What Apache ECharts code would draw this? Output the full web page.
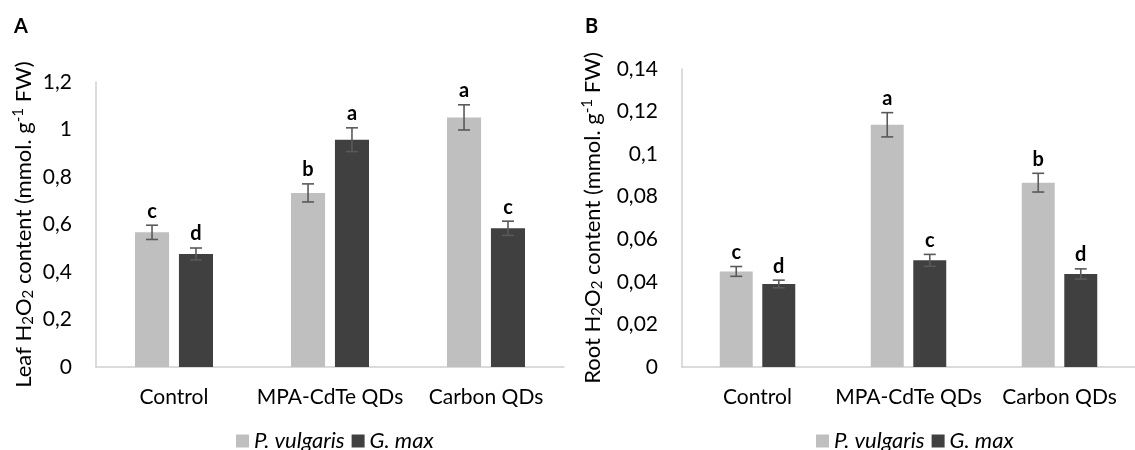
<!DOCTYPE html>
<html>
<head>
<meta charset="utf-8">
<script src="https://cdn.jsdelivr.net/npm/echarts@6/dist/echarts.min.js"></script>
<style>html,body{margin:0;padding:0;background:#fff}#c{width:1135px;height:450px}</style>
</head>
<body>
<div id="c"></div>
<script>
// ---- data ----
const categories = ['Control', 'MPA-CdTe QDs', 'Carbon QDs'];
const seriesNames = ['P. vulgaris', 'G. max'];

const leafPv = [0.567, 0.733, 1.051];
const leafPvErr = [0.030, 0.038, 0.053];
const leafPvLetters = ['c', 'b', 'a'];
const leafGm = [0.476, 0.957, 0.584];
const leafGmErr = [0.025, 0.050, 0.030];
const leafGmLetters = ['d', 'a', 'c'];

const rootPv = [0.0449, 0.1138, 0.0866];
const rootPvErr = [0.0023, 0.0057, 0.0044];
const rootPvLetters = ['c', 'a', 'b'];
const rootGm = [0.0390, 0.0501, 0.0437];
const rootGmErr = [0.0018, 0.0028, 0.0024];
const rootGmLetters = ['d', 'c', 'd'];

const yTicksA = ['0', '0,2', '0,4', '0,6', '0,8', '1', '1,2'];
const yTicksB = ['0', '0,02', '0,04', '0,06', '0,08', '0,1', '0,12', '0,14'];

// ---- styling ----
const FONT = 'Lato';
const LIGHT = '#bfbfbf';
const DARK = '#404040';
const AXIS = '#d0d0d0';
const ERR = '#595959';
const CAT_GAP = 0.5, BAR_GAP = 0.29;
const FS = 21;

function errSeries(xIdx, vals, errs, letters, sign) {
  return {
    type: 'custom',
    xAxisIndex: xIdx, yAxisIndex: xIdx,
    z: 10,
    silent: true,
    data: vals.map((v, i) => [i, v, errs[i]]),
    renderItem: function (params, api) {
      const i = api.value(0), v = api.value(1), e = api.value(2);
      const c = api.coord([i, v]);
      const bw = api.size([1, 0])[0];
      const barW = bw * (1 - CAT_GAP) / (2 + BAR_GAP);
      const x = c[0] + sign * barW * (1 + BAR_GAP) / 2;
      const top = api.coord([i, v + e])[1];
      const bot = api.coord([i, v - e])[1];
      const cw = 6;
      const st = { stroke: ERR, lineWidth: 1.6 };
      return {
        type: 'group',
        children: [
          { type: 'line', shape: { x1: x, y1: top, x2: x, y2: bot }, style: st },
          { type: 'line', shape: { x1: x - cw, y1: top, x2: x + cw, y2: top }, style: st },
          { type: 'line', shape: { x1: x - cw, y1: bot, x2: x + cw, y2: bot }, style: st },
          { type: 'text', x: x, y: top - 14, style: { text: letters[params.dataIndex], fill: '#000', font: 'bold 20px ' + FONT, align: 'center', verticalAlign: 'middle' } }
        ]
      };
    }
  };
}

function barSeries(xIdx, name, vals, color) {
  return {
    type: 'bar', name: name, xAxisIndex: xIdx, yAxisIndex: xIdx,
    data: vals, barCategoryGap: (CAT_GAP * 100) + '%', barGap: (BAR_GAP * 100) + '%',
    itemStyle: { color: color }, silent: true
  };
}

const richName = {
  sub: { fontSize: 15, fontFamily: FONT, color: '#000', padding: [10, 0, 0, 0] },
  sup: { fontSize: 15, fontFamily: FONT, color: '#000', padding: [0, 0, 10, 0] }
};

function xAxis(gi) {
  return {
    type: 'category', gridIndex: gi, data: categories,
    axisLine: { lineStyle: { color: AXIS, width: 1.5 } },
    axisTick: { show: false },
    axisLabel: { color: '#000', fontSize: FS, fontFamily: FONT, margin: 20, interval: 0 }
  };
}
function yAxis(gi, max, interval, ticks, name, gap) {
  return {
    type: 'value', gridIndex: gi, min: 0, max: max, interval: interval,
    name: name, nameLocation: 'middle', nameGap: gap, nameRotate: 90,
    nameTextStyle: { color: '#000', fontSize: 22, fontFamily: FONT, rich: richName },
    axisLine: { show: true, lineStyle: { color: AXIS, width: 1.5 } },
    axisTick: { show: false },
    splitLine: { show: false },
    axisLabel: { color: '#000', fontSize: FS, fontFamily: FONT, margin: 24, formatter: (v, i) => ticks[i] }
  };
}

const legendStyle = { fontSize: 22, fontStyle: 'italic', fontFamily: FONT, color: '#000', lineHeight: 22 };

const chart = echarts.init(document.getElementById('c'), null, { renderer: 'canvas' });
chart.setOption({
  animation: false,
  backgroundColor: '#fff',
  grid: [
    { left: 96, top: 82, width: 468, height: 285 },
    { left: 682, top: 69, width: 465, height: 298 }
  ],
  xAxis: [xAxis(0), xAxis(1)],
  yAxis: [
    yAxis(0, 1.2, 0.2, yTicksA, 'Leaf H{sub|2}O{sub|2} content (mmol. g{sup|-1} FW)', 60),
    yAxis(1, 0.14, 0.02, yTicksB, 'Root H{sub|2}O{sub|2} content (mmol. g{sup|-1} FW)', 77)
  ],
  legend: [
    { data: seriesNames, left: 236, top: 430, padding: 0, itemWidth: 13, itemHeight: 13, itemGap: 7, icon: 'rect', textStyle: legendStyle },
    { data: seriesNames, left: 816, top: 430, padding: 0, itemWidth: 13, itemHeight: 13, itemGap: 7, icon: 'rect', textStyle: legendStyle }
  ],
  graphic: [
    { type: 'text', left: 14, top: 17, style: { text: 'A', font: 'bold 20px ' + FONT, fill: '#000' } },
    { type: 'text', left: 585, top: 17, style: { text: 'B', font: 'bold 20px ' + FONT, fill: '#000' } }
  ],
  series: [
    barSeries(0, seriesNames[0], leafPv, LIGHT),
    barSeries(0, seriesNames[1], leafGm, DARK),
    barSeries(1, seriesNames[0], rootPv, LIGHT),
    barSeries(1, seriesNames[1], rootGm, DARK),
    errSeries(0, leafPv, leafPvErr, leafPvLetters, -1),
    errSeries(0, leafGm, leafGmErr, leafGmLetters, 1),
    errSeries(1, rootPv, rootPvErr, rootPvLetters, -1),
    errSeries(1, rootGm, rootGmErr, rootGmLetters, 1)
  ]
});
</script>
</body>
</html>
